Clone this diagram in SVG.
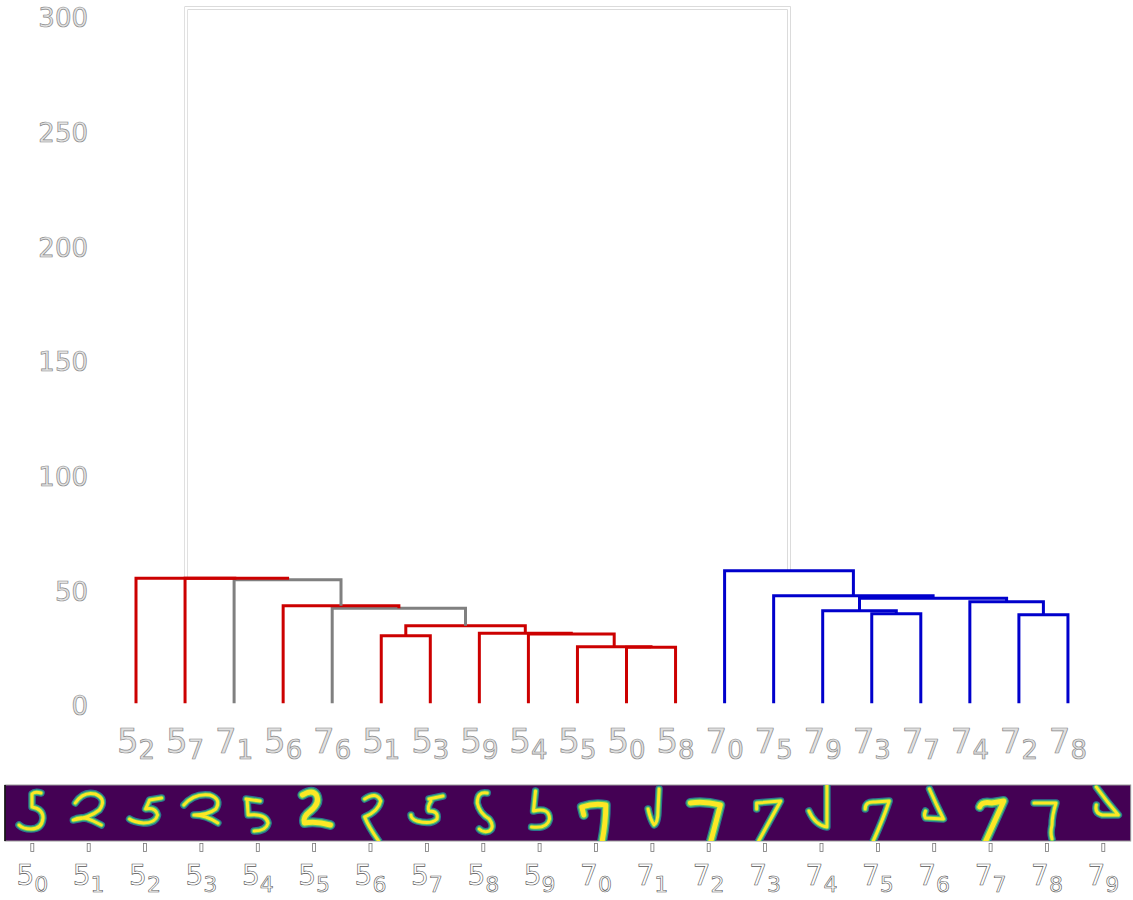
<svg xmlns="http://www.w3.org/2000/svg" xmlns:xlink="http://www.w3.org/1999/xlink" width="1133" height="900" viewBox="0 0 1133 900">
<style>
.ln{fill:none;stroke-width:3;stroke-linejoin:miter;stroke-linecap:butt}
.r{stroke:#cc0000}.g{stroke:#808080}.b{stroke:#0000cc}
.ax{font-family:"DejaVu Sans",sans-serif;font-size:26px;fill:#e4e4e4;stroke:#8a8a8a;stroke-width:0.7;text-anchor:end}
.tl{font-family:"DejaVu Sans",sans-serif;font-size:34px;fill:#e0e0e0;stroke:#8a8a8a;stroke-width:0.7;text-anchor:middle}
.bl{font-family:"DejaVu Sans",sans-serif;font-size:28px;fill:#fff;stroke:#555;stroke-width:0.6;text-anchor:middle}
.sub1{font-size:26px}.sub2{font-size:22px}
.tk{fill:#fff;stroke:#777;stroke-width:0.8}
.h1{fill:none;stroke:#2a788e;stroke-width:7.5;stroke-linecap:round;stroke-linejoin:round}
.h2{fill:none;stroke:#5ec962;stroke-width:5;stroke-linecap:round;stroke-linejoin:round}
.h3{fill:none;stroke:#fde725;stroke-width:3;stroke-linecap:round;stroke-linejoin:round}
.bold .h1{stroke-width:10}.bold .h2{stroke-width:7.5}.bold .h3{stroke-width:5}
</style>
<defs>
<clipPath id="stripclip"><rect x="5" y="785" width="1125.7" height="56"/></clipPath>
<path id="d0" d="M36,8 Q30,6 27,9 L27,22 Q38,24 38,33 Q37,44 26,44 Q18,44 14,40"/>
<path id="d1" d="M14,18 Q22,6 34,9 Q46,14 38,25 Q28,33 12,35 Q20,30 32,36 L40,40"/>
<path id="d2" d="M44,13 L32,15 Q30,20 28,24 Q38,22 40,30 Q38,38 26,38 Q16,37 12,34"/>
<path id="d3" d="M10,20 Q20,8 36,10 Q48,14 42,24 Q34,30 20,30 Q32,30 44,38"/>
<path id="d4" d="M16,14 L30,16 M17,15 L18,30 Q36,28 38,38 Q36,46 24,46"/>
<path id="d5" d="M16,10 Q26,4 30,10 Q34,18 24,26 Q16,32 18,38 Q30,36 44,40"/>
<path id="d6" d="M22,14 Q34,6 38,16 Q36,26 22,32 Q26,42 36,56"/>
<path id="d7" d="M30,14 L44,11 M32,16 Q28,22 30,26 Q40,26 38,34 Q32,40 18,36 Q12,34 12,30"/>
<path id="d8" d="M32,8 Q22,6 22,18 Q24,28 34,34 Q40,42 34,46 Q28,48 24,44"/>
<path id="d9" d="M24,6 L22,26 Q38,22 38,34 Q36,44 20,42"/>
<path id="e0" d="M16,30 L14,22 Q26,18 38,20 Q38,38 34,58"/>
<path id="e1" d="M24,24 Q26,34 30,40 Q34,38 34,24 L35,4"/>
<path id="e2" d="M10,18 Q24,16 40,20 Q36,36 30,58"/>
<path id="e3" d="M20,24 L20,18 L44,16 Q34,34 22,56"/>
<path id="e4" d="M16,26 Q22,40 34,42 L34,-2"/>
<path id="e5" d="M16,24 Q16,16 26,17 L40,16 Q34,34 24,56"/>
<path id="e6" d="M24,4 Q30,18 38,34 L20,33 Q18,30 20,26"/>
<path id="e7" d="M18,22 Q20,16 30,18 L42,16 Q34,34 24,56"/>
<path id="e8" d="M16,18 L38,18 Q34,30 34,40 Q32,48 34,54"/>
<path id="e9" d="M22,2 Q32,16 44,30 L28,30 Q20,28 22,20"/>
</defs>
<rect width="1133" height="900" fill="#fff"/>
<g id="y-axis">
<text class="ax" x="88" y="27">300</text>
<text class="ax" x="88" y="142">250</text>
<text class="ax" x="88" y="256.5">200</text>
<text class="ax" x="88" y="371">150</text>
<text class="ax" x="88" y="486">100</text>
<text class="ax" x="88" y="600.5">50</text>
<text class="ax" x="88" y="715">0</text>
</g>
<g id="connectors">
<path class="ln" d="M186.2,578.3 V8 H789 V570.7" stroke="#6e6e6e" stroke-width="5" fill="none"/>
<path class="ln" d="M186.2,578.3 V8 H789 V570.7" stroke="#fff" stroke-width="2.4" fill="none"/>
<path class="ln r" d="M381.25,703.3 V635.7 H430.3 V703.3"/>
<path class="ln r" d="M626.5,703.3 V647.3 H675.55 V703.3"/>
<path class="ln r" d="M577.45,703.3 V646.7 H651 V647.3"/>
<path class="ln r" d="M528.4,703.3 V634 H614.2 V646.7"/>
<path class="ln r" d="M479.35,703.3 V633.3 H571.3 V634"/>
<path class="ln r" d="M405.8,635.7 V625.7 H525.3 V633.3"/>
<path class="ln g" d="M332.2,703.3 V608.3 H465.5 V625.7"/>
<path class="ln r" d="M283.15,703.3 V605.7 H398.9 V608.3"/>
<path class="ln g" d="M234.1,703.3 V579.7 H341 V605.7"/>
<path class="ln r" d="M185.05,703.3 V578.3 H287.6 V579.7"/>
<path class="ln r" d="M136,703.3 V578.3 H236.3"/>
<path class="ln b" d="M871.75,703.3 V613.7 H920.8 V703.3"/>
<path class="ln b" d="M822.7,703.3 V610.7 H896.3 V613.7"/>
<path class="ln b" d="M1018.9,703.3 V614.7 H1067.95 V703.3"/>
<path class="ln b" d="M969.85,703.3 V601.7 H1043.4 V614.7"/>
<path class="ln b" d="M859.5,610.7 V598.3 H1006.6 V601.7"/>
<path class="ln b" d="M773.65,703.3 V595.7 H933.1 V598.3"/>
<path class="ln b" d="M724.6,703.3 V570.7 H853.4 V595.7"/>
</g>
<g id="leaf-5_2"><text class="tl" x="136" y="753">5<tspan class="sub1" dy="6">2</tspan></text></g>
<g id="leaf-5_7"><text class="tl" x="185.05" y="753">5<tspan class="sub1" dy="6">7</tspan></text></g>
<g id="leaf-7_1"><text class="tl" x="234.1" y="753">7<tspan class="sub1" dy="6">1</tspan></text></g>
<g id="leaf-5_6"><text class="tl" x="283.15" y="753">5<tspan class="sub1" dy="6">6</tspan></text></g>
<g id="leaf-7_6"><text class="tl" x="332.2" y="753">7<tspan class="sub1" dy="6">6</tspan></text></g>
<g id="leaf-5_1"><text class="tl" x="381.25" y="753">5<tspan class="sub1" dy="6">1</tspan></text></g>
<g id="leaf-5_3"><text class="tl" x="430.3" y="753">5<tspan class="sub1" dy="6">3</tspan></text></g>
<g id="leaf-5_9"><text class="tl" x="479.35" y="753">5<tspan class="sub1" dy="6">9</tspan></text></g>
<g id="leaf-5_4"><text class="tl" x="528.4" y="753">5<tspan class="sub1" dy="6">4</tspan></text></g>
<g id="leaf-5_5"><text class="tl" x="577.45" y="753">5<tspan class="sub1" dy="6">5</tspan></text></g>
<g id="leaf-5_0"><text class="tl" x="626.5" y="753">5<tspan class="sub1" dy="6">0</tspan></text></g>
<g id="leaf-5_8"><text class="tl" x="675.55" y="753">5<tspan class="sub1" dy="6">8</tspan></text></g>
<g id="leaf-7_0"><text class="tl" x="724.6" y="753">7<tspan class="sub1" dy="6">0</tspan></text></g>
<g id="leaf-7_5"><text class="tl" x="773.65" y="753">7<tspan class="sub1" dy="6">5</tspan></text></g>
<g id="leaf-7_9"><text class="tl" x="822.7" y="753">7<tspan class="sub1" dy="6">9</tspan></text></g>
<g id="leaf-7_3"><text class="tl" x="871.75" y="753">7<tspan class="sub1" dy="6">3</tspan></text></g>
<g id="leaf-7_7"><text class="tl" x="920.8" y="753">7<tspan class="sub1" dy="6">7</tspan></text></g>
<g id="leaf-7_4"><text class="tl" x="969.85" y="753">7<tspan class="sub1" dy="6">4</tspan></text></g>
<g id="leaf-7_2"><text class="tl" x="1018.9" y="753">7<tspan class="sub1" dy="6">2</tspan></text></g>
<g id="leaf-7_8"><text class="tl" x="1067.95" y="753">7<tspan class="sub1" dy="6">8</tspan></text></g>
<g id="image-strip">
<rect x="5" y="785" width="1125.7" height="56" fill="#440154" stroke="#999" stroke-width="1"/>
<g clip-path="url(#stripclip)">
<g transform="translate(5,785)"><use href="#d0" class="h1"/><use href="#d0" class="h2"/><use href="#d0" class="h3"/></g>
<g transform="translate(61.28,785)"><use href="#d1" class="h1"/><use href="#d1" class="h2"/><use href="#d1" class="h3"/></g>
<g transform="translate(117.56,785)"><use href="#d2" class="h1"/><use href="#d2" class="h2"/><use href="#d2" class="h3"/></g>
<g transform="translate(173.84,785)"><use href="#d3" class="h1"/><use href="#d3" class="h2"/><use href="#d3" class="h3"/></g>
<g transform="translate(230.12,785)"><use href="#d4" class="h1"/><use href="#d4" class="h2"/><use href="#d4" class="h3"/></g>
<g class="bold" transform="translate(286.4,785)"><use href="#d5" class="h1"/><use href="#d5" class="h2"/><use href="#d5" class="h3"/></g>
<g transform="translate(342.68,785)"><use href="#d6" class="h1"/><use href="#d6" class="h2"/><use href="#d6" class="h3"/></g>
<g transform="translate(398.96,785)"><use href="#d7" class="h1"/><use href="#d7" class="h2"/><use href="#d7" class="h3"/></g>
<g transform="translate(455.24,785)"><use href="#d8" class="h1"/><use href="#d8" class="h2"/><use href="#d8" class="h3"/></g>
<g transform="translate(511.52,785)"><use href="#d9" class="h1"/><use href="#d9" class="h2"/><use href="#d9" class="h3"/></g>
<g class="bold" transform="translate(567.8,785)"><use href="#e0" class="h1"/><use href="#e0" class="h2"/><use href="#e0" class="h3"/></g>
<g transform="translate(624.08,785)"><use href="#e1" class="h1"/><use href="#e1" class="h2"/><use href="#e1" class="h3"/></g>
<g class="bold" transform="translate(680.36,785)"><use href="#e2" class="h1"/><use href="#e2" class="h2"/><use href="#e2" class="h3"/></g>
<g transform="translate(736.64,785)"><use href="#e3" class="h1"/><use href="#e3" class="h2"/><use href="#e3" class="h3"/></g>
<g transform="translate(792.92,785)"><use href="#e4" class="h1"/><use href="#e4" class="h2"/><use href="#e4" class="h3"/></g>
<g transform="translate(849.2,785)"><use href="#e5" class="h1"/><use href="#e5" class="h2"/><use href="#e5" class="h3"/></g>
<g transform="translate(905.48,785)"><use href="#e6" class="h1"/><use href="#e6" class="h2"/><use href="#e6" class="h3"/></g>
<g class="bold" transform="translate(961.76,785)"><use href="#e7" class="h1"/><use href="#e7" class="h2"/><use href="#e7" class="h3"/></g>
<g transform="translate(1018.04,785)"><use href="#e8" class="h1"/><use href="#e8" class="h2"/><use href="#e8" class="h3"/></g>
<g transform="translate(1074.32,785)"><use href="#e9" class="h1"/><use href="#e9" class="h2"/><use href="#e9" class="h3"/></g>
</g>
<line x1="5" y1="785" x2="5" y2="841" stroke="#000" stroke-width="1.5"/>
</g>
<g id="bottom-ticks">
<rect class="tk" x="30.8" y="843.5" width="3" height="8"/>
<rect class="tk" x="87.2" y="843.5" width="3" height="8"/>
<rect class="tk" x="143.5" y="843.5" width="3" height="8"/>
<rect class="tk" x="199.9" y="843.5" width="3" height="8"/>
<rect class="tk" x="256.3" y="843.5" width="3" height="8"/>
<rect class="tk" x="312.6" y="843.5" width="3" height="8"/>
<rect class="tk" x="369" y="843.5" width="3" height="8"/>
<rect class="tk" x="425.4" y="843.5" width="3" height="8"/>
<rect class="tk" x="481.8" y="843.5" width="3" height="8"/>
<rect class="tk" x="538.1" y="843.5" width="3" height="8"/>
<rect class="tk" x="594.5" y="843.5" width="3" height="8"/>
<rect class="tk" x="650.9" y="843.5" width="3" height="8"/>
<rect class="tk" x="707.2" y="843.5" width="3" height="8"/>
<rect class="tk" x="763.6" y="843.5" width="3" height="8"/>
<rect class="tk" x="820" y="843.5" width="3" height="8"/>
<rect class="tk" x="876.4" y="843.5" width="3" height="8"/>
<rect class="tk" x="932.7" y="843.5" width="3" height="8"/>
<rect class="tk" x="989.1" y="843.5" width="3" height="8"/>
<rect class="tk" x="1045.5" y="843.5" width="3" height="8"/>
<rect class="tk" x="1101.8" y="843.5" width="3" height="8"/>
</g>
<g id="img-label-5_0"><text class="bl" x="32.3" y="885">5<tspan class="sub2" dy="6.5">0</tspan></text></g>
<g id="img-label-5_1"><text class="bl" x="88.7" y="885">5<tspan class="sub2" dy="6.5">1</tspan></text></g>
<g id="img-label-5_2"><text class="bl" x="145" y="885">5<tspan class="sub2" dy="6.5">2</tspan></text></g>
<g id="img-label-5_3"><text class="bl" x="201.4" y="885">5<tspan class="sub2" dy="6.5">3</tspan></text></g>
<g id="img-label-5_4"><text class="bl" x="257.8" y="885">5<tspan class="sub2" dy="6.5">4</tspan></text></g>
<g id="img-label-5_5"><text class="bl" x="314.1" y="885">5<tspan class="sub2" dy="6.5">5</tspan></text></g>
<g id="img-label-5_6"><text class="bl" x="370.5" y="885">5<tspan class="sub2" dy="6.5">6</tspan></text></g>
<g id="img-label-5_7"><text class="bl" x="426.9" y="885">5<tspan class="sub2" dy="6.5">7</tspan></text></g>
<g id="img-label-5_8"><text class="bl" x="483.3" y="885">5<tspan class="sub2" dy="6.5">8</tspan></text></g>
<g id="img-label-5_9"><text class="bl" x="539.6" y="885">5<tspan class="sub2" dy="6.5">9</tspan></text></g>
<g id="img-label-7_0"><text class="bl" x="596" y="885">7<tspan class="sub2" dy="6.5">0</tspan></text></g>
<g id="img-label-7_1"><text class="bl" x="652.4" y="885">7<tspan class="sub2" dy="6.5">1</tspan></text></g>
<g id="img-label-7_2"><text class="bl" x="708.7" y="885">7<tspan class="sub2" dy="6.5">2</tspan></text></g>
<g id="img-label-7_3"><text class="bl" x="765.1" y="885">7<tspan class="sub2" dy="6.5">3</tspan></text></g>
<g id="img-label-7_4"><text class="bl" x="821.5" y="885">7<tspan class="sub2" dy="6.5">4</tspan></text></g>
<g id="img-label-7_5"><text class="bl" x="877.9" y="885">7<tspan class="sub2" dy="6.5">5</tspan></text></g>
<g id="img-label-7_6"><text class="bl" x="934.2" y="885">7<tspan class="sub2" dy="6.5">6</tspan></text></g>
<g id="img-label-7_7"><text class="bl" x="990.6" y="885">7<tspan class="sub2" dy="6.5">7</tspan></text></g>
<g id="img-label-7_8"><text class="bl" x="1047" y="885">7<tspan class="sub2" dy="6.5">8</tspan></text></g>
<g id="img-label-7_9"><text class="bl" x="1103.3" y="885">7<tspan class="sub2" dy="6.5">9</tspan></text></g>
</svg>
